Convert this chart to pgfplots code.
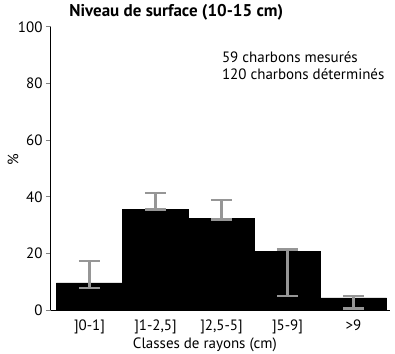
\documentclass[border=0pt]{standalone}
\usepackage{pgfplots}
\usepackage{pgfplotstable}
\pgfplotsset{compat=1.18}
\usepackage{fontspec}
\setmainfont{PT Sans}
\definecolor{errgray}{RGB}{150,150,150}

% classe, valeur, erreur +, erreur -
\pgfplotstableread{
x y plus minus
0 9.6 7.7 1.9
1 35.6 5.8 0.0
2 32.5 6.4 0.5
3 20.7 0.7 15.8
4 4.3 0.6 3.7
}\rayons

\begin{document}
\begin{tikzpicture}
\useasboundingbox (-51bp,-44bp) rectangle (344bp,310bp);
\begin{axis}[
  at={(0,0)}, anchor=south west,
  scale only axis, width=339bp, height=283bp,
  font=\fontsize{15bp}{17bp}\selectfont,
  ybar, bar width=1,
  xmin=-0.583, xmax=4.553, ymin=0, ymax=100,
  axis x line=bottom, axis y line=left,
  axis line style={-, line width=1bp},
  xtick={0,1,2,3,4},
  xticklabels={{]0-1]},{]1-2,5]},{]2,5-5]},{]5-9]},{>9}},
  major x tick style={draw=none},
  ytick={0,20,...,100},
  tick align=outside, major tick length=5bp,
  major y tick style={line width=1bp},
  /pgf/number format/assume math mode=true,
  xticklabel style={yshift=-1bp},
  xlabel={Classes de rayons (cm)},
  xlabel style={at={(axis description cs:0.454,0)}, anchor=center, yshift=-35bp},
  ylabel={\%},
  ylabel style={at={(axis description cs:-0.112,0.53)}, anchor=center},
  title={\fontsize{17bp}{19bp}\selectfont\bfseries Niveau de surface (10-15 cm)},
  title style={at={(axis description cs:0.044,1)}, anchor=base west, yshift=5bp},
]
\addplot[fill=black, draw=black,
  error bars/.cd, y dir=both, y explicit,
  error bar style={errgray, line width=2.5bp},
  error mark options={errgray, line width=2.5bp, mark size=10.5bp, rotate=90}]
  table[x=x, y=y, y error plus=plus, y error minus=minus]{\rayons};
\node[anchor=north west, align=left, inner sep=0pt, font=\fontsize{15bp}{17bp}\selectfont]
  at (axis description cs:0.504,0.915) {59 charbons mesurés\\120 charbons déterminés};
\end{axis}
\end{tikzpicture}
\end{document}
